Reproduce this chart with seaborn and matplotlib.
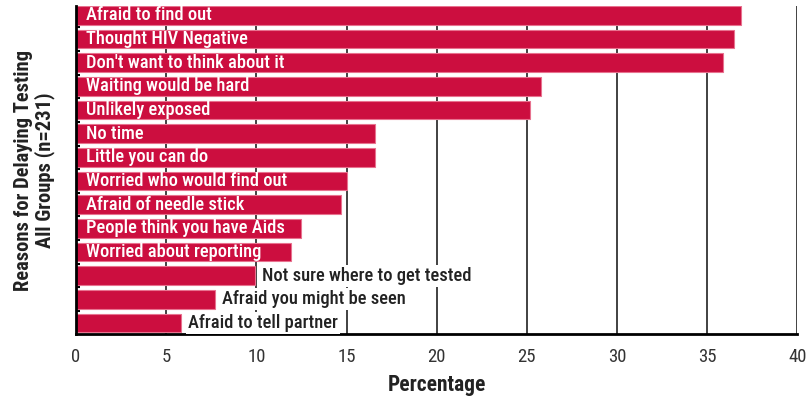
import matplotlib
matplotlib.use("Agg")
import matplotlib.pyplot as plt
from matplotlib import font_manager
import seaborn as sns
import pandas as pd

# Reasons for delaying testing, all groups (n=231)
reasons = [
    "Afraid to find out",
    "Thought HIV Negative",
    "Don't want to think about it",
    "Waiting would be hard",
    "Unlikely exposed",
    "No time",
    "Little you can do",
    "Worried who would find out",
    "Afraid of needle stick",
    "People think you have Aids",
    "Worried about reporting",
    "Not sure where to get tested",
    "Afraid you might be seen",
    "Afraid to tell partner",
]
percentages = [36.9, 36.5, 35.9, 25.8, 25.2, 16.6, 16.6, 15.0, 14.7, 12.5, 11.9, 9.9, 7.7, 5.8]
# labels drawn to the right of short bars
outside = ["Not sure where to get tested", "Afraid you might be seen", "Afraid to tell partner"]

x_ticks = [0, 5, 10, 15, 20, 25, 30, 35, 40]

sns.set_style("white")

# pick a narrow face if one exists, otherwise Liberation Sans a bit smaller
installed = {f.name for f in font_manager.fontManager.ttflist}
narrow = [n for n in ["Liberation Sans Narrow", "Roboto Condensed", "Open Sans Condensed",
                      "DejaVu Sans Condensed"] if n in installed]
if narrow:
    family = narrow[0]
    fs = 13.3
else:
    family = "Liberation Sans"
    fs = 12
plt.rcParams["font.family"] = [family, "DejaVu Sans"]

df = pd.DataFrame({"Reason": reasons, "Percentage": percentages})

fig = plt.figure(figsize=(8.06, 3.97), dpi=100)
ax = fig.add_axes([0.0943, 0.159, 0.8950, 0.825])

sns.barplot(data=df, x="Percentage", y="Reason", orient="h", color="#cc0e3f",
            width=0.79, edgecolor="#e8728f", linewidth=0.8, saturation=1, ax=ax)

ax.set_xlim(0, 40)
ax.set_ylim(13.46, -0.38)
ax.set_xticks(x_ticks)
ax.set_xticklabels([str(t) for t in x_ticks], fontsize=13.5, color="#333333")
ax.set_yticks([])
# little inward marks on the left spine between the bars
ax.set_yticks([i + 0.5 for i in range(len(reasons) - 1)], minor=True)
ax.tick_params(axis="y", which="minor", direction="in", length=3, width=1.5,
               color="black", left=True)
ax.tick_params(axis="x", length=0, pad=10)

ax.set_axisbelow(True)
ax.grid(axis="x", color="#333333", linewidth=1.3)
ax.grid(axis="y", visible=False)

for side in ["top", "right"]:
    ax.spines[side].set_visible(False)
for side in ["left", "bottom"]:
    ax.spines[side].set_color("black")
    ax.spines[side].set_linewidth(2)

for i, (name, val) in enumerate(zip(reasons, percentages)):
    if name in outside:
        ax.text(val + 0.4, i, name, va="center", ha="left", fontsize=fs,
                fontweight="medium", color="#222222", zorder=5,
                bbox=dict(facecolor="white", edgecolor="none", pad=1.5))
    else:
        ax.text(0.55, i, name, va="center", ha="left", fontsize=fs,
                fontweight="medium", color="white", zorder=5)

ax.set_xlabel("Percentage", fontsize=15.5, fontweight="bold", color="#222222", labelpad=6)
ax.set_ylabel("Reasons for Delaying Testing\nAll Groups (n=231)", fontsize=14.8,
              fontweight="bold", color="#222222", labelpad=12, linespacing=1.05)

fig.savefig("out.png", dpi=100)
